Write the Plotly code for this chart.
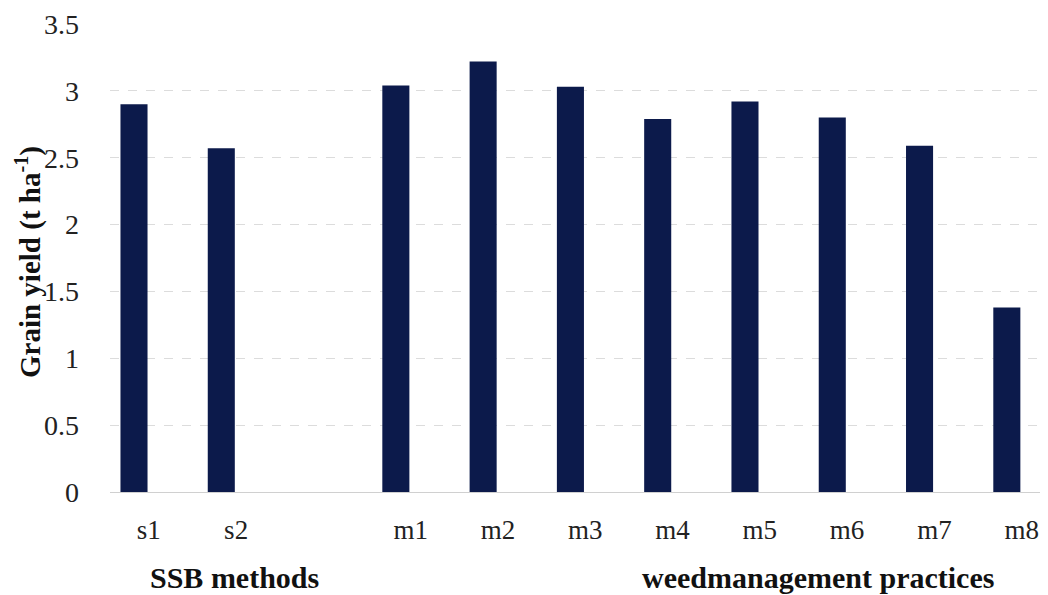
import plotly.graph_objects as go

categories = ["s1", "s2", "m1", "m2", "m3", "m4", "m5", "m6", "m7", "m8"]
yields = [2.90, 2.57, 3.04, 3.22, 3.03, 2.79, 2.92, 2.80, 2.59, 1.38]
axis_order = ["s1", "s2", " ", "m1", "m2", "m3", "m4", "m5", "m6", "m7", "m8"]
y_ticks = [0, 0.5, 1, 1.5, 2, 2.5, 3, 3.5]
y_tick_labels = ["0", "0.5", "1", "1.5", "2", "2.5", "3", "3.5"]
y_title = "Grain yield (t ha<sup>-1</sup>)"
group_titles = ["SSB methods", "weedmanagement practices"]

FONT = "Liberation Serif"
BAR = "#0c1a4b"

L, R, T, B = 102, 16, 16, 111
PW = 1048 - L - R
PH = 595 - T - B
X_RANGE = [-0.275, 10.38]
LABEL_SHIFT = 0.17  # tick labels sit slightly right of bar centres in the reference

label_pos = [i for i, c in enumerate(axis_order) if c.strip()]
label_txt = [c for c in axis_order if c.strip()]

fig = go.Figure()
fig.add_trace(go.Bar(x=categories, y=yields, marker=dict(color=BAR, line=dict(width=0)),
                     width=0.31, hoverinfo="x+y"))
# invisible helper trace so the label axis is drawn
fig.add_trace(go.Scatter(x=label_pos, y=[0] * len(label_pos), xaxis="x2", mode="markers",
                         marker=dict(opacity=0, size=1), hoverinfo="skip"))

fig.update_layout(
    width=1048, height=595,
    margin=dict(l=L, r=R, t=T, b=B, autoexpand=False),
    paper_bgcolor="white", plot_bgcolor="white",
    showlegend=False,
    font=dict(family=FONT, color="#222222"),
    xaxis=dict(type="category", categoryorder="array", categoryarray=axis_order,
               range=X_RANGE, showgrid=False, showline=False, zeroline=False,
               automargin=False, showticklabels=False, ticks=""),
    xaxis2=dict(type="linear", overlaying="x", anchor="y", side="bottom",
                range=[X_RANGE[0] - LABEL_SHIFT, X_RANGE[1] - LABEL_SHIFT],
                tickmode="array", tickvals=label_pos, ticktext=label_txt,
                showgrid=False, showline=False, zeroline=False, automargin=False,
                ticks="", tickfont=dict(size=27, family=FONT, color="#222222"),
                ticklabelstandoff=19),
    yaxis=dict(range=[0, 3.5], tickvals=y_ticks, ticktext=y_tick_labels,
               automargin=False,
               showgrid=True, gridcolor="#dcdcdc", griddash="dash", gridwidth=1,
               zeroline=True, zerolinecolor="#d0d0d0", zerolinewidth=1,
               showline=False, ticks="", tickfont=dict(size=28, family=FONT, color="#222222"),
               ticklabelstandoff=30),
)

# y-axis title placed as rotated text
fig.add_annotation(text="<b>" + y_title + "</b>", xref="paper", yref="paper",
                   x=(20 - L) / PW, y=1 - (254 - T) / PH, xanchor="center", yanchor="middle",
                   textangle=-90, showarrow=False,
                   font=dict(size=29, family=FONT, color="#111111"))

for txt, cx in zip(group_titles, [226, 810]):
    fig.add_annotation(text="<b>" + txt + "</b>", xref="paper", yref="paper",
                       x=(cx - L) / PW, y=-(569 - (595 - B)) / PH,
                       xanchor="center", yanchor="middle",
                       showarrow=False, font=dict(size=30, family=FONT, color="#111111"))

fig.write_html("out.html")
